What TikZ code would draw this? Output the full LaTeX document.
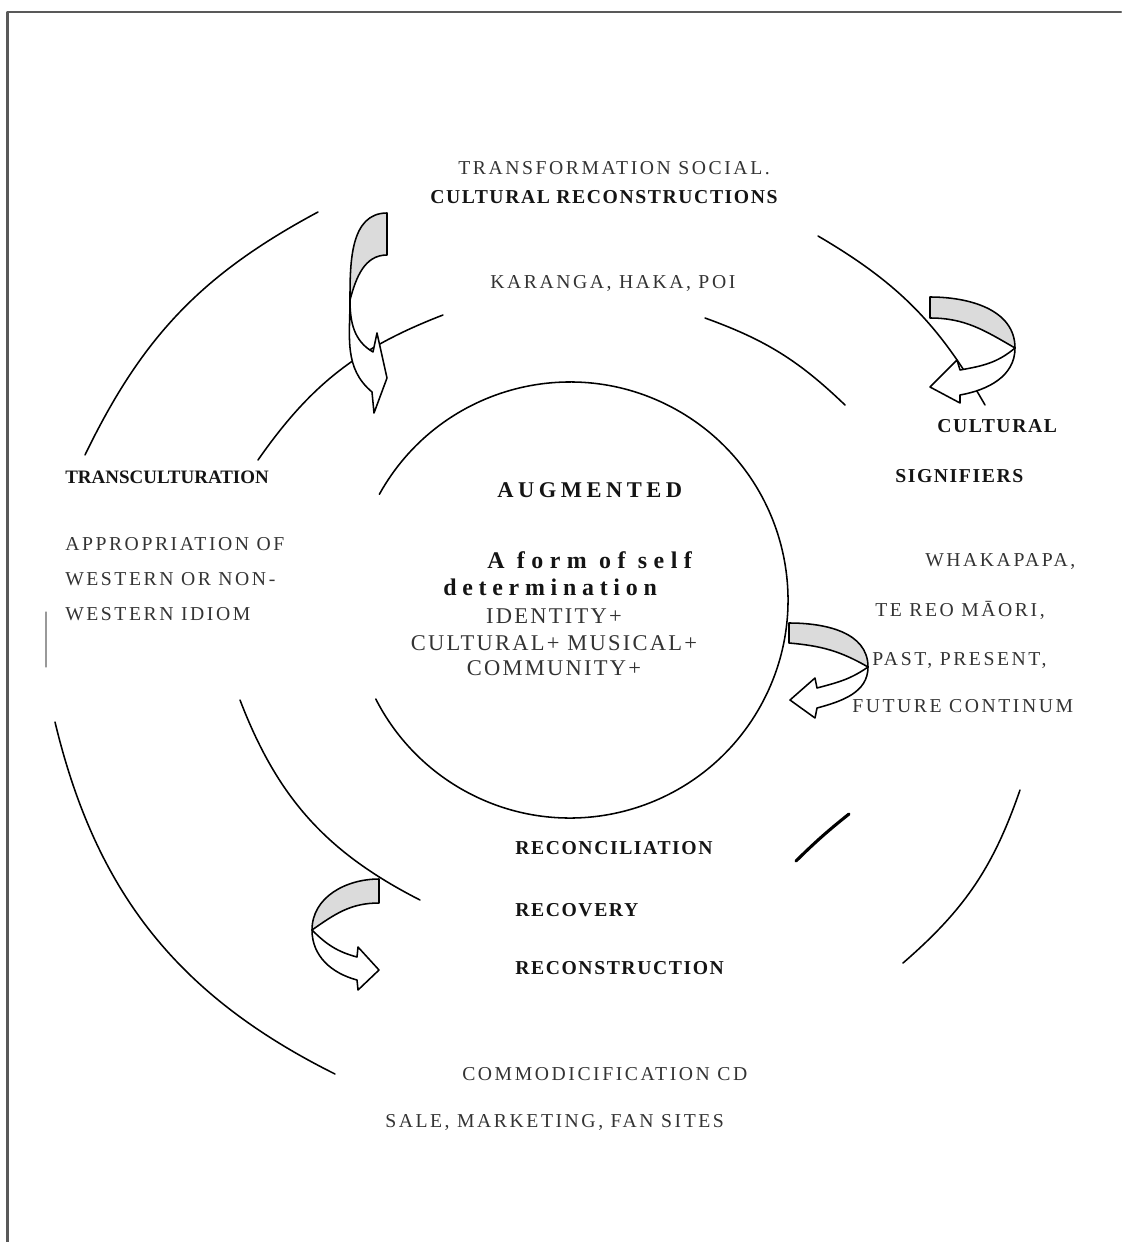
\documentclass[tikz,border=0pt]{standalone}
\usepackage{fontspec}
\setmainfont{Liberation Serif}
\begin{document}
\begin{tikzpicture}[x=.025cm,y=.025cm,line join=round,line cap=round,
		ring/.style={line width=1.1pt},
		back/.style={draw,line width=1.1pt,fill=black!14},
		twist/.style={draw,line width=1.1pt,fill=white},
		lab/.style={inner sep=0pt,anchor=west,text=black!80,font=\fontsize{14}{16}\selectfont\addfontfeatures{LetterSpace=13}},
		blab/.style={inner sep=0pt,anchor=west,text=black!92,font=\fontsize{14}{16}\selectfont\bfseries\addfontfeatures{LetterSpace=8}}]
				\def\r{218};
				\useasboundingbox (0,0) rectangle (1121,-1242);
				\path
				(570,-600) coordinate (C)
				(85,-455) coordinate (A1) (318,-212) coordinate (A2)
				(818,-236) coordinate (B1) (985,-405) coordinate (B2)
				(1020,-790) coordinate (D1) (903,-963) coordinate (D2)
				(55,-722) coordinate (E1) (335,-1074) coordinate (E2)
				(258,-460) coordinate (M1) (443,-315) coordinate (M2)
				(705,-318) coordinate (N1) (845,-405) coordinate (N2)
				(240,-700) coordinate (P1) (420,-900) coordinate (P2)
				(796,-861) coordinate (Q1) (849,-814) coordinate (Q2)
				;
				% frame
				\draw[black!65,line width=1.5pt] (7.5,-1242) |- (1121,-12);
				\draw[black!40,line width=.8pt] (46,-612) -- (46,-667);
				% rings
				\draw[ring] (C) ++(151:\r) arc[start angle=151,end angle=-153,radius=\r];
				\draw[ring] (A1) to[bend left=18] (A2) (B1) to[bend left=15] (B2)
				(D1) to[bend left=15] (D2) (E1) to[bend right=25] (E2);
				\draw[ring] (M1) to[bend left=17] (M2) (N1) to[bend left=12] (N2)
				(P1) to[bend right=21] (P2);
				\draw[line width=2.2pt] (Q1) to[bend left=3] (Q2);
				% curved arrows
				\draw[back] (387,-213) to[out=180,in=90] (350,-300) to[out=75,in=180] (387,-255) -- cycle;
				\draw[twist] (350,-300) to[out=-90,in=140] (372,-392) -- (374,-413) -- (387,-378) -- (377,-333) -- (373,-352) to[out=150,in=-90] (350,-300) -- cycle;
				\draw[back] (930,-297) to[out=0,in=90] (1015,-348) to[out=150,in=0] (930,-318) -- cycle;
				\draw[twist] (1015,-348) to[out=-90,in=10] (960,-395) -- (960,-403) -- (930,-387) -- (957,-360) -- (960,-370) to[out=10,in=220] (1015,-348) -- cycle;
				\draw[back] (789,-623) to[out=0,in=90] (868,-667) to[out=150,in=-5] (789,-643) -- cycle;
				\draw[twist] (868,-667) to[out=-90,in=15] (817,-708) -- (815,-718) -- (790,-700) -- (815,-678) -- (817,-688) to[out=15,in=215] (868,-667) -- cycle;
				\draw[back] (379,-879) to[out=180,in=90] (312,-930) to[out=35,in=180] (379,-903) -- cycle;
				\draw[twist] (312,-930) to[out=-90,in=165] (357,-980) -- (358,-990) -- (379,-970) -- (358,-947) -- (357,-957) to[out=165,in=-45] (312,-930) -- cycle;
				% labels
				\foreach \n/\x/\y/\t in {soc/458/168/{TRANSFORMATION SOCIAL.},kar/490/283/{KARANGA, HAKA, POI},
				app/65/544/{APPROPRIATION OF},wes/65/579/{WESTERN OR NON-},idi/65/614/{WESTERN IDIOM},
				wha/925/562/{WHAKAPAPA,},reo/875/610/{TE REO MĀORI,},pas/872/660/{PAST, PRESENT,},fut/852/706/{FUTURE CONTINUM},
				com/462/1074/{COMMODICIFICATION CD},sal/385/1122/{SALE, MARKETING, FAN SITES}}
				\node[lab] (\n) at (\x,-\y) {\t};
				\foreach \n/\x/\y/\t in {crc/430/197/{CULTURAL RECONSTRUCTIONS},cul/937/426/CULTURAL,sig/895/476/SIGNIFIERS,
				rcl/515/848/RECONCILIATION,rcv/515/910/RECOVERY,rcs/515/968/RECONSTRUCTION}
				\node[blab] (\n) at (\x,-\y) {\t};
				\node[blab,font=\fontsize{13.5}{15}\selectfont\bfseries] (trc) at (65,-477) {TRANSCULTURATION};
				\node[blab,font=\fontsize{16}{18}\selectfont\bfseries\addfontfeatures{LetterSpace=20}] (aug) at (497,-490) {AUGMENTED};
				\node[blab,font=\fontsize{17}{19}\selectfont\bfseries\addfontfeatures{LetterSpace=27}] (frm) at (487,-560) {A form of self};
				\node[blab,font=\fontsize{17}{19}\selectfont\bfseries\addfontfeatures{LetterSpace=24}] (det) at (443,-587) {determination};
				\foreach \n/\y/\t in {ide/616/{IDENTITY+},mus/643/{CULTURAL+ MUSICAL+},cmy/668/{COMMUNITY+}}
				\node[lab,anchor=center,font=\fontsize{16}{18}\selectfont\addfontfeatures{LetterSpace=10}] (\n) at (554,-\y) {\t};
			\end{tikzpicture}
\end{document}
